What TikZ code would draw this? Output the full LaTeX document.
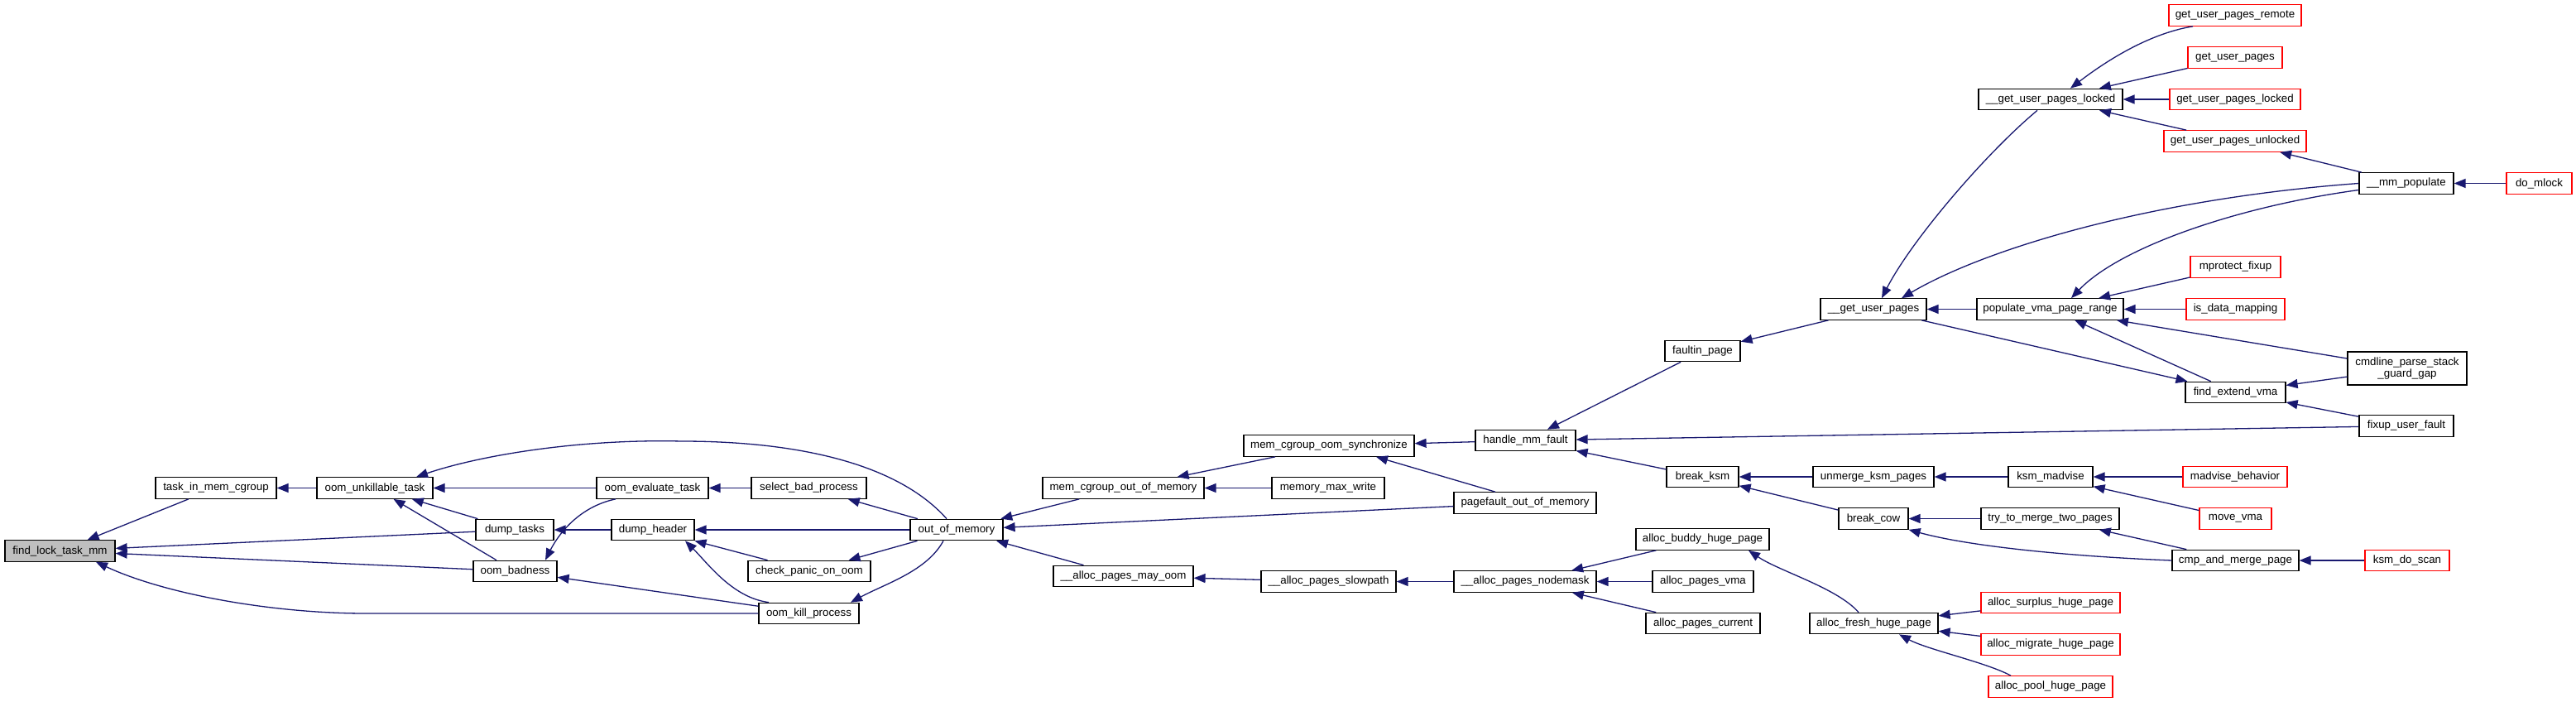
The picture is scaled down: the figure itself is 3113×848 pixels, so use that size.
\documentclass[tikz,border=0pt]{standalone}
\usepackage{fontspec}
\setmainfont{Liberation Sans}
\usetikzlibrary{arrows.meta}
\definecolor{edgec}{HTML}{191970}
\definecolor{redb}{HTML}{FF0000}
\definecolor{hl}{HTML}{BFBFBF}
\begin{document}
\begin{tikzpicture}[x=1pt,y=-1pt,
  box/.style={draw=black, line width=1.2pt, fill=white, minimum height=25.5pt, inner sep=0pt, font=\fontsize{13.33}{14.5}\selectfont},
  rbox/.style={box, draw=redb},
  conn/.style={color=edgec, line width=1.3pt, arrows={Triangle[length=14pt,width=11pt]-}}]
\fill[white] (0,0) rectangle (3113,848);
\useasboundingbox (0,0) rectangle (3113,848);

\node[box,fill=hl,minimum width=133] (flt) at (72.5,665.5) {find\_lock\_task\_mm};
\node[box,minimum width=146] (timc) at (261,589.5) {task\_in\_mem\_cgroup};
\node[box,minimum width=140] (out) at (453,589.5) {oom\_unkillable\_task};
\node[box,minimum width=135] (oet) at (788.5,589.5) {oom\_evaluate\_task};
\node[box,minimum width=139] (sbp) at (977.5,589.5) {select\_bad\_process};
\node[box,minimum width=94] (dt) at (622,640) {dump\_tasks};
\node[box,minimum width=100] (dh) at (789,640) {dump\_header};
\node[box,minimum width=101] (ob) at (622.5,690) {oom\_badness};
\node[box,minimum width=148] (cpo) at (978,690) {check\_panic\_on\_oom};
\node[box,minimum width=121] (okp) at (977.5,741) {oom\_kill\_process};
\node[box,minimum width=112] (oom) at (1156,640) {out\_of\_memory};
\node[box,minimum width=195] (mcoom) at (1357.5,589.5) {mem\_cgroup\_out\_of\_memory};
\node[box,minimum width=169] (apmo) at (1357.5,696) {\_\_alloc\_pages\_may\_oom};
\node[box,minimum width=206] (mcos) at (1606,538.5) {mem\_cgroup\_oom\_synchronize};
\node[box,minimum width=136] (mmw) at (1605,589.5) {memory\_max\_write};
\node[box,minimum width=172] (poom) at (1843,607.5) {pagefault\_out\_of\_memory};
\node[box,minimum width=163] (aps) at (1605.5,702.5) {\_\_alloc\_pages\_slowpath};
\node[box,minimum width=121] (hmf) at (1843.5,532) {handle\_mm\_fault};
\node[box,minimum width=172] (apn) at (1843,702.5) {\_\_alloc\_pages\_nodemask};
\node[box,minimum width=161] (abhp) at (2057.5,651.5) {alloc\_buddy\_huge\_page};
\node[box,minimum width=122] (apv) at (2058,702.5) {alloc\_pages\_vma};
\node[box,minimum width=138] (apc) at (2058,753) {alloc\_pages\_current};
\node[box,minimum width=91] (fp) at (2057.5,424) {faultin\_page};
\node[box,minimum width=87] (bk) at (2057.5,576) {break\_ksm};
\node[box,minimum width=155] (afhp) at (2264.5,753) {alloc\_fresh\_huge\_page};
\node[box,minimum width=84] (bc) at (2264,626.5) {break\_cow};
\node[box,minimum width=146] (ukp) at (2264,576) {unmerge\_ksm\_pages};
\node[box,minimum width=128] (gupi) at (2264,373.5) {\_\_get\_user\_pages};
\node[box,minimum width=174] (gupli) at (2478,120) {\_\_get\_user\_pages\_locked};
\node[box,minimum width=177] (pvpr) at (2477.5,373.5) {populate\_vma\_page\_range};
\node[box,minimum width=121] (fev) at (2701.5,474) {find\_extend\_vma};
\node[box,minimum width=102] (km) at (2478,576) {ksm\_madvise};
\node[box,minimum width=167] (ttm) at (2477.5,626.5) {try\_to\_merge\_two\_pages};
\node[box,minimum width=153] (camp) at (2701.5,677) {cmp\_and\_merge\_page};
\node[rbox,minimum width=168] (ashp) at (2478,728) {alloc\_surplus\_huge\_page};
\node[rbox,minimum width=168] (amhp) at (2478,778.5) {alloc\_migrate\_huge\_page};
\node[rbox,minimum width=150] (aphp) at (2478,829.5) {alloc\_pool\_huge\_page};
\node[rbox,minimum width=160] (gupr) at (2701,18.5) {get\_user\_pages\_remote};
\node[rbox,minimum width=114] (gup) at (2701,69.5) {get\_user\_pages};
\node[rbox,minimum width=158] (gupl) at (2701,120) {get\_user\_pages\_locked};
\node[rbox,minimum width=172] (gupu) at (2701,170.5) {get\_user\_pages\_unlocked};
\node[box,minimum width=114] (mmp) at (2908,221.5) {\_\_mm\_populate};
\node[rbox,minimum width=79] (dm) at (3068.5,221.5) {do\_mlock};
\node[rbox,minimum width=109] (mf) at (2701.5,322.5) {mprotect\_fixup};
\node[rbox,minimum width=119] (idm) at (2701.5,373.5) {is\_data\_mapping};
\node[box,minimum width=144,minimum height=40,align=center] (cpsg) at (2909,445) {cmdline\_parse\_stack\\\_guard\_gap};
\node[box,minimum width=114] (fuf) at (2908,514.5) {fixup\_user\_fault};
\node[rbox,minimum width=126] (mb) at (2701,576) {madvise\_behavior};
\node[rbox,minimum width=87] (mv) at (2701.5,626.5) {move\_vma};
\node[rbox,minimum width=102] (kds) at (2909,677) {ksm\_do\_scan};

\draw[conn] (flt) -- (timc);
\draw[conn] (flt) -- (dt);
\draw[conn] (flt) -- (ob);
\draw[conn] ([xshift=43.5pt]flt.south) .. controls (200,718) and (330,741) .. (442,741) -- (okp.west);
\draw[conn] (timc) -- (out);
\draw[conn] (out) -- (oet);
\draw[conn] (out) -- (dt);
\draw[conn] (out) -- (ob);
\draw[conn] ([xshift=50pt]out.north) .. controls (580,550) and (700,530) .. (824,533) .. controls (950,533) and (1080,555) .. ([xshift=-12pt]oom.north);
\draw[conn] ([xshift=36.5pt]ob.north) .. controls (675,645) and (700,612) .. ([xshift=-44.5pt]oet.south);
\draw[conn] (ob) -- (okp);
\draw[conn] (dt) -- (dh);
\draw[conn] (oet) -- (sbp);
\draw[conn] (dh) -- (oom);
\draw[conn] (dh) -- (cpo);
\draw[conn] ([xshift=39pt]dh.south) .. controls (855,680) and (885,722) .. ([xshift=-48.5pt]okp.north);
\draw[conn] (sbp) -- (oom);
\draw[conn] (cpo) -- (oom);
\draw[conn] ([xshift=50.5pt]okp.north) .. controls (1070,705) and (1120,690) .. ([xshift=-16pt]oom.south);
\draw[conn] (oom) -- (mcoom);
\draw[conn] (oom) -- (poom);
\draw[conn] (oom) -- (apmo);
\draw[conn] (mcoom) -- (mcos);
\draw[conn] (mcoom) -- (mmw);
\draw[conn] (mcos) -- (hmf);
\draw[conn] ([xshift=57pt]mcos.south) -- ([xshift=-36pt]poom.north);
\draw[conn] (apmo) -- (aps);
\draw[conn] (aps) -- (apn);
\draw[conn] (apn) -- (abhp);
\draw[conn] (apn) -- (apv);
\draw[conn] (apn) -- (apc);
\draw[conn] ([xshift=55.5pt]abhp.south) .. controls (2150,690) and (2220,710) .. ([xshift=-18.5pt]afhp.north);
\draw[conn] (afhp) -- (ashp);
\draw[conn] (afhp) -- (amhp);
\draw[conn] ([xshift=30.5pt]afhp.south) .. controls (2330,785) and (2400,800) .. ([xshift=-48pt]aphp.north);
\draw[conn] (hmf) -- (fp);
\draw[conn] (hmf) -- (fuf);
\draw[conn] (hmf) -- (bk);
\draw[conn] (fp) -- (gupi);
\draw[conn] ([xshift=10pt]gupi.north) .. controls (2310,290) and (2400,185) .. ([xshift=-16pt]gupli.south);
\draw[conn] (gupi) -- (pvpr);
\draw[conn] ([xshift=34pt]gupi.north) .. controls (2400,300) and (2600,240) .. (mmp.west);
\draw[conn] (fev) -- (gupi);
\draw[conn] ([xshift=24pt]gupli.north) .. controls (2550,70) and (2600,40) .. ([xshift=-51pt]gupr.south);
\draw[conn] (gupli) -- (gup);
\draw[conn] (gupli) -- (gupl);
\draw[conn] (gupli) -- (gupu);
\draw[conn] (gupu) -- (mmp);
\draw[conn] (mmp) -- (dm);
\draw[conn] ([xshift=25.5pt]pvpr.north) .. controls (2560,300) and (2700,250) .. ([yshift=-8pt]mmp.west);
\draw[conn] (pvpr) -- (mf);
\draw[conn] (pvpr) -- (idm);
\draw[conn] (pvpr) -- (cpsg);
\draw[conn] (pvpr) -- (fev);
\draw[conn] (fev) -- (cpsg);
\draw[conn] (fev) -- (fuf);
\draw[conn] (bk) -- (ukp);
\draw[conn] (bk) -- (bc);
\draw[conn] (ukp) -- (km);
\draw[conn] (km) -- (mb);
\draw[conn] (km) -- (mv);
\draw[conn] (bc) -- (ttm);
\draw[conn] (bc.south east) .. controls (2380,660) and (2500,672) .. (camp.west);
\draw[conn] (ttm) -- (camp);
\draw[conn] (camp) -- (kds);
\end{tikzpicture}
\end{document}
